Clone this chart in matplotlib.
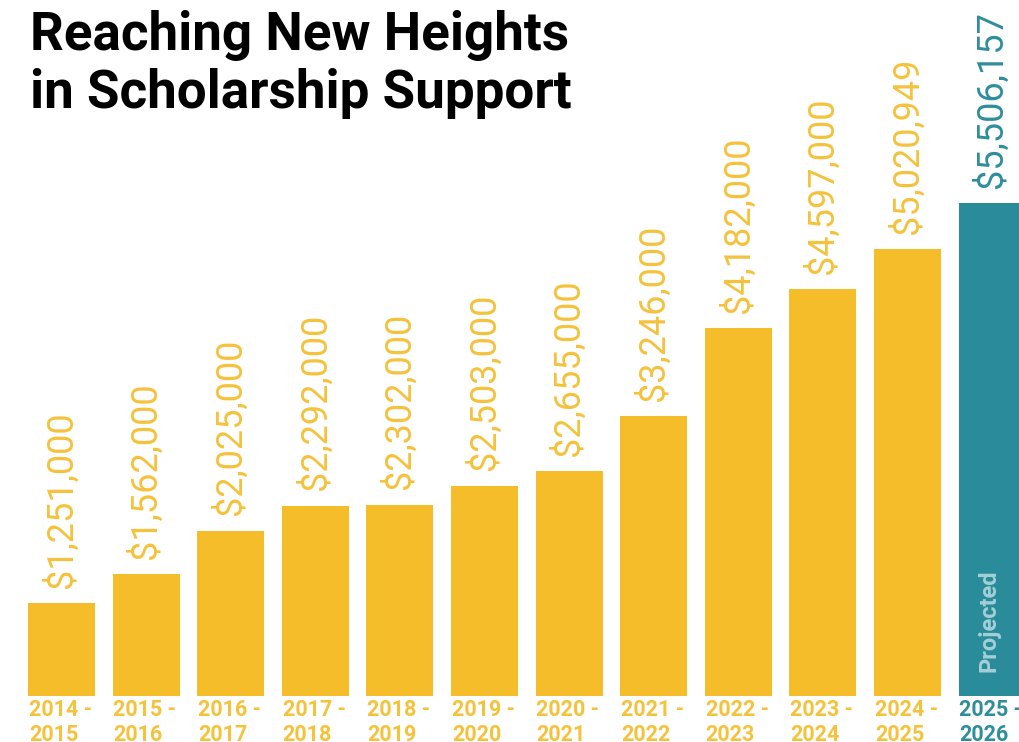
import matplotlib
matplotlib.use("Agg")
import matplotlib.pyplot as plt
from matplotlib.transforms import blended_transform_factory

# ---- data ----
periods = ["2014 -\n2015", "2015 -\n2016", "2016 -\n2017", "2017 -\n2018",
           "2018 -\n2019", "2019 -\n2020", "2020 -\n2021", "2021 -\n2022",
           "2022 -\n2023", "2023 -\n2024", "2024 -\n2025", "2025 -\n2026"]
amounts = [1251000, 1562000, 2025000, 2292000, 2302000, 2503000,
           2655000, 3246000, 4182000, 4597000, 5020949, 5506157]
value_labels = ["$1,251,000", "$1,562,000", "$2,025,000", "$2,292,000",
                "$2,302,000", "$2,503,000", "$2,655,000", "$3,246,000",
                "$4,182,000", "$4,597,000", "$5,020,949", "$5,506,157"]
is_projected = [False] * 11 + [True]
title_lines = ["Reaching New Heights", "in Scholarship Support"]
projected_note = "Projected"

# ---- style ----
YELLOW = "#F6BD2B"
YELLOW_TXT = "#F5C23C"
TEAL = "#2A8C9B"
TEAL_TXT = "#2F8E9C"
NOTE = "#A3D0D6"

W, H = 1020, 742
fig = plt.figure(figsize=(W / 100, H / 100), dpi=100)
fig.patch.set_facecolor("white")

ax_bottom_px = 46
ax = fig.add_axes([0, ax_bottom_px / H, 1, (H - ax_bottom_px) / H])
ax.set_axis_off()

pitch = 84.6
first_center = 61.5
ax.set_xlim(-first_center / pitch, (W - first_center) / pitch)
px_per_unit = 94.0 / 1e6
y_low = 266000
ax.set_ylim(y_low, y_low + (H - ax_bottom_px) / px_per_unit)

xs = list(range(len(amounts)))
colors = [TEAL if p else YELLOW for p in is_projected]
txt_colors = [TEAL_TXT if p else YELLOW_TXT for p in is_projected]
bar_w = 67 / pitch
ax.bar(xs, amounts, width=bar_w, color=colors, bottom=0, linewidth=0)

for x, v, lbl, c in zip(xs, amounts, value_labels, txt_colors):
    ax.annotate(lbl, (x, v), xytext=(0, 11), textcoords="offset points",
                rotation=90, ha="center", va="bottom", color=c,
                fontsize=26, family="Roboto", fontweight="normal")

# category labels
tr = blended_transform_factory(ax.transData, fig.transFigure)
for x, lab, c in zip(xs, periods, txt_colors):
    l1, l2 = lab.split("\n")
    ax.text(x - bar_w / 2 + 0.01, (H - 716) / H, l1, transform=tr, ha="left",
            va="baseline", color=c, fontsize=15.5, family="Roboto",
            fontweight="bold", clip_on=False)
    ax.text(x - bar_w / 2 + 0.01, (H - 741) / H, l2, transform=tr, ha="left",
            va="baseline", color=c, fontsize=15.5, family="Roboto",
            fontweight="bold", clip_on=False)

# projected note
for x, p in zip(xs, is_projected):
    if p:
        ax.annotate(projected_note, (x, y_low), xytext=(-2, 17),
                    textcoords="offset points", rotation=90, ha="center",
                    va="bottom", color=NOTE, fontsize=17, family="Roboto",
                    fontweight="bold")

for line, base_px in zip(title_lines, [50, 108]):
    fig.text(30 / W, 1 - base_px / H, line, ha="left", va="baseline",
             fontsize=38.2, family="Roboto", fontweight="bold", color="black")

fig.savefig("out.png", dpi=100, facecolor="white")
